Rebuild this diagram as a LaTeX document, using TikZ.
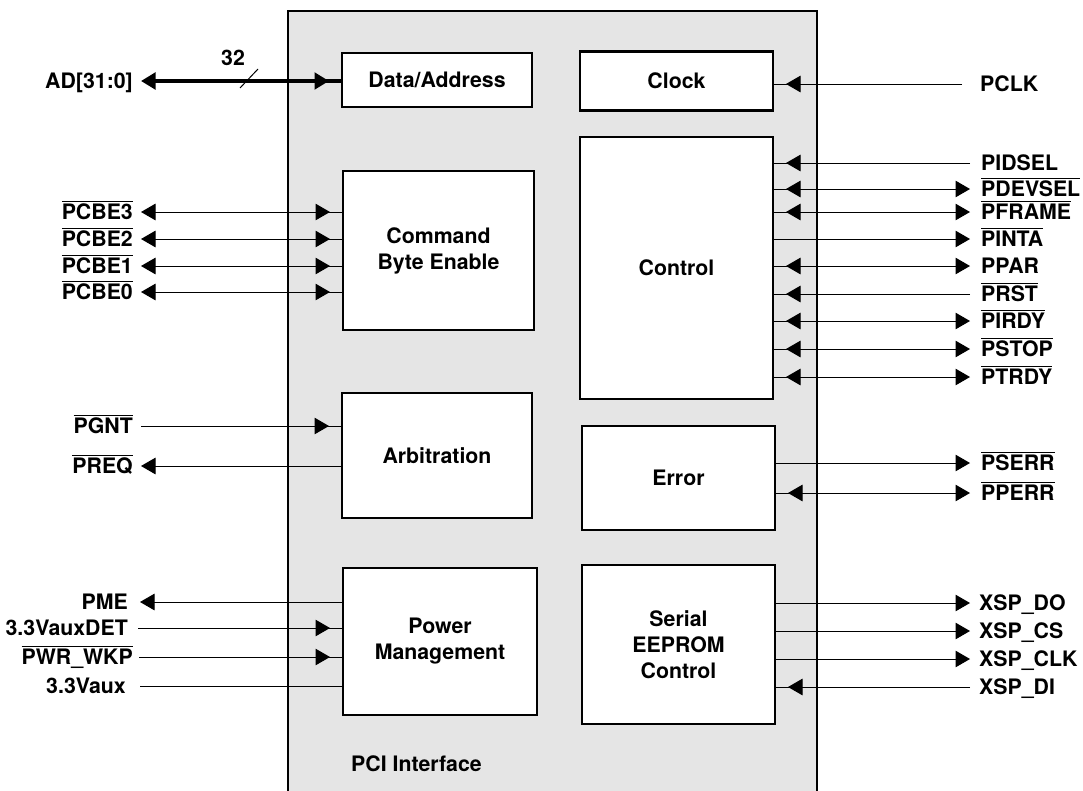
\documentclass[tikz,border=0pt]{standalone}
\usepackage{fontspec}
\setmainfont{TeX Gyre Heros}
\usetikzlibrary{arrows.meta,decorations.markings}
\newcommand\myovl[1]{\setbox0=\hbox{#1}\rlap{\rule[17.5pt]{\wd0}{1.5pt}}\box0}
\begin{document}
\begin{tikzpicture}[x=1pt,y=-1pt,
  txt/.style={font=\fontsize{21.3}{26}\selectfont\bfseries},
  lbl/.style={txt,inner sep=0pt,text height=15pt,text depth=0pt},
  lbll/.style={lbl,anchor=east},
  lblr/.style={lbl,anchor=west},
  blk/.style={txt,draw=black,line width=2.6pt,fill=white,inner sep=0pt,outer sep=0pt,align=center},
  sig/.style={line width=1pt},
  tri/.tip={Triangle[length=14.5pt,width=16.5pt]},
  outa/.style={tri-},
  ina/.style={postaction={decorate},decoration={markings,mark=at position -13pt with {\arrow{tri}}}},
]
\useasboundingbox (0,0) rectangle (1083,790);
\clip (0,0) rectangle (1083,790);
% container
\draw[line width=2.8pt,fill=gray!20] (288,11) rectangle (817,820);
\node[txt,anchor=base west,inner sep=0pt] (pcil) at (351,771) {PCI Interface};
% blocks
\node[blk,minimum width=190pt,minimum height=54pt] (da) at (437,80) {Data/Address};
\node[blk,minimum width=193pt,minimum height=59pt] (clk) at (676.5,81) {Clock};
\node[blk,minimum width=193pt,minimum height=262pt] (ctl) at (676.5,268) {Control};
\node[blk,minimum width=191pt,minimum height=159pt] (cbe) at (438.5,250.5) {Command\\Byte Enable};
\node[blk,minimum width=190pt,minimum height=125pt] (arb) at (437,455.5) {Arbitration};
\node[blk,minimum width=193pt,minimum height=104pt] (err) at (678.5,478) {Error};
\node[blk,minimum width=194pt,minimum height=147pt] (pm) at (440,641.5) {Power\\Management};
\node[blk,minimum width=193pt,minimum height=159pt] (ser) at (678.5,644.5) {Serial\\EEPROM\\Control};
% left: data/address bus
\node[lbll] (lad) at (133,81) {AD[31:0]};
\draw[line width=3.5pt,outa,ina] ([xshift=8pt]lad.east) -- (lad -| da.west);
\node[txt,inner sep=0pt] (w32) at (233,58) {32};
\draw[sig] (240,88) -- (258,69);
% left: command byte enable
\node[lbll] (lb3) at (133,212) {\myovl{PCBE3}};
\draw[sig,outa,ina] ([xshift=8pt]lb3.east) -- (lb3 -| cbe.west);
\node[lbll] (lb2) at (133,239) {\myovl{PCBE2}};
\draw[sig,outa,ina] ([xshift=8pt]lb2.east) -- (lb2 -| cbe.west);
\node[lbll] (lb1) at (133,266) {\myovl{PCBE1}};
\draw[sig,outa,ina] ([xshift=8pt]lb1.east) -- (lb1 -| cbe.west);
\node[lbll] (lb0) at (133,292) {\myovl{PCBE0}};
\draw[sig,outa,ina] ([xshift=8pt]lb0.east) -- (lb0 -| cbe.west);
% left: arbitration
\node[lbll] (lgnt) at (133,426) {\myovl{PGNT}};
\draw[sig,ina] ([xshift=8pt]lgnt.east) -- (lgnt -| arb.west);
\node[lbll] (lreq) at (133,466) {\myovl{PREQ}};
\draw[sig,outa] ([xshift=8pt]lreq.east) -- (lreq -| arb.west);
% left: power management
\node[lbll] (lpme) at (128,602) {PME};
\draw[sig,outa] ([xshift=12pt]lpme.east) -- (lpme -| pm.west);
\node[lbll] (ldet) at (128,628) {3.3VauxDET};
\draw[sig,ina] ([xshift=10pt]ldet.east) -- (ldet -| pm.west);
\node[lbll] (lwkp) at (133,657) {\myovl{PWR\_WKP}};
\draw[sig,ina] ([xshift=6pt]lwkp.east) -- (lwkp -| pm.west);
\node[lbll] (laux) at (126,686) {3.3Vaux};
\draw[sig] ([xshift=14pt]laux.east) -- (laux -| pm.west);
% right: clock
\node[lblr] (rclk) at (980,84) {PCLK};
\draw[sig,ina] ([xshift=-18pt]rclk.west) -- (rclk -| clk.east);
% right: control
\node[lblr] (r1) at (981,163) {PIDSEL};
\draw[sig,ina] ([xshift=-11pt]r1.west) -- (r1 -| ctl.east);
\node[lblr] (r2) at (981,189) {\myovl{PDEVSEL}};
\draw[sig,outa,ina] ([xshift=-11pt]r2.west) -- (r2 -| ctl.east);
\node[lblr] (r3) at (981,212) {\myovl{PFRAME}};
\draw[sig,outa,ina] ([xshift=-11pt]r3.west) -- (r3 -| ctl.east);
\node[lblr] (r4) at (981,239) {\myovl{PINTA}};
\draw[sig,outa] ([xshift=-11pt]r4.west) -- (r4 -| ctl.east);
\node[lblr] (r5) at (981,266) {PPAR};
\draw[sig,outa,ina] ([xshift=-11pt]r5.west) -- (r5 -| ctl.east);
\node[lblr] (r6) at (981,294) {\myovl{PRST}};
\draw[sig,ina] ([xshift=-11pt]r6.west) -- (r6 -| ctl.east);
\node[lblr] (r7) at (981,321) {\myovl{PIRDY}};
\draw[sig,outa,ina] ([xshift=-11pt]r7.west) -- (r7 -| ctl.east);
\node[lblr] (r8) at (981,349) {\myovl{PSTOP}};
\draw[sig,outa,ina] ([xshift=-11pt]r8.west) -- (r8 -| ctl.east);
\node[lblr] (r9) at (981,377) {\myovl{PTRDY}};
\draw[sig,outa,ina] ([xshift=-11pt]r9.west) -- (r9 -| ctl.east);
% right: error
\node[lblr] (rserr) at (981,463) {\myovl{PSERR}};
\draw[sig,outa] ([xshift=-11pt]rserr.west) -- (rserr -| err.east);
\node[lblr] (rperr) at (981,493) {\myovl{PPERR}};
\draw[sig,outa,ina] ([xshift=-11pt]rperr.west) -- (rperr -| err.east);
% right: serial eeprom
\node[lblr] (rdo) at (979,603) {XSP\_DO};
\draw[sig,outa] ([xshift=-9pt]rdo.west) -- (rdo -| ser.east);
\node[lblr] (rcs) at (979,631) {XSP\_CS};
\draw[sig,outa] ([xshift=-9pt]rcs.west) -- (rcs -| ser.east);
\node[lblr] (rck) at (979,659) {XSP\_CLK};
\draw[sig,outa] ([xshift=-9pt]rck.west) -- (rck -| ser.east);
\node[lblr] (rdi) at (979,687) {XSP\_DI};
\draw[sig,ina] ([xshift=-9pt]rdi.west) -- (rdi -| ser.east);
\end{tikzpicture}
\end{document}
